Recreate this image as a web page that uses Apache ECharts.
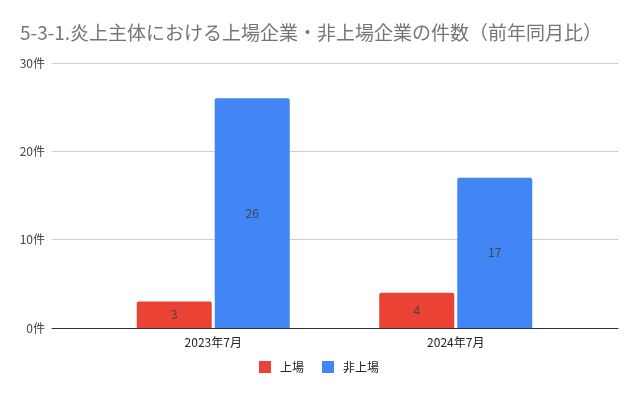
<!DOCTYPE html>
<html><head><meta charset="utf-8">
<script src="https://cdn.jsdelivr.net/npm/echarts@6/dist/echarts.min.js"></script>
<style>html,body{margin:0;padding:0;background:#fff}#c{width:638px;height:395px}</style>
</head><body><div id="c"></div>
<script>
const categories = ['2023年7月', '2024年7月'];
const listed = [3, 4];
const unlisted = [26, 17];
const yTicks = [0, 10, 20, 30];
const seriesNames = ['上場', '非上場'];

const font = "'Noto Sans CJK JP', 'Noto Sans', sans-serif";
const chart = echarts.init(document.getElementById('c'));
const lab = {show: true, position: 'inside', color: '#444', fontSize: 12, fontFamily: font};
chart.setOption({
  animation: false,
  textStyle: {fontFamily: font},
  title: {text: '5-3-1.炎上主体における上場企業・非上場企業の件数（前年同月比）', left: 15, top: 18,
    textStyle: {fontSize: 19, fontWeight: 'normal', color: '#757575', fontFamily: font}},
  legend: {data: seriesNames, bottom: 17, left: 'center', itemWidth: 12, itemHeight: 12, itemGap: 18,
    icon: 'rect', textStyle: {fontSize: 12, color: '#222', fontFamily: font, padding: [0, 0, 0, 4]}},
  grid: [
    {left: 52, right: 20, top: 63, bottom: 67},
    {left: 92, right: 61, top: 63, bottom: 67}
  ],
  xAxis: [
    {gridIndex: 0, type: 'value', min: 0, max: 1, axisLine: {show: true, onZero: false, lineStyle: {color: '#333', width: 1}},
      axisTick: {show: false}, axisLabel: {show: false}, splitLine: {show: false}},
    {gridIndex: 1, type: 'category', data: categories, axisLine: {show: false}, axisTick: {show: false},
      axisLabel: {color: '#222', fontSize: 12, margin: 8, fontFamily: font}}
  ],
  yAxis: [
    {gridIndex: 0, type: 'value', min: yTicks[0], max: yTicks[yTicks.length - 1], interval: 10,
      axisLine: {show: false}, axisTick: {show: false},
      axisLabel: {formatter: v => v + '件', color: '#444', fontSize: 12, margin: 7, fontFamily: font},
      splitLine: {lineStyle: {color: '#ccc', width: 1}}},
    {gridIndex: 1, type: 'value', min: yTicks[0], max: yTicks[yTicks.length - 1], interval: 10, show: false,
      splitLine: {show: false}}
  ],
  series: [
    {name: seriesNames[0], type: 'bar', xAxisIndex: 1, yAxisIndex: 1, data: listed, barWidth: 75, barGap: '4%',
      itemStyle: {color: '#ea4335', borderRadius: [2, 2, 0, 0]}, label: lab},
    {name: seriesNames[1], type: 'bar', xAxisIndex: 1, yAxisIndex: 1, data: unlisted, barWidth: 75, barGap: '4%',
      itemStyle: {color: '#4285f4', borderRadius: [2, 2, 0, 0]}, label: lab}
  ]
});
</script></body></html>
